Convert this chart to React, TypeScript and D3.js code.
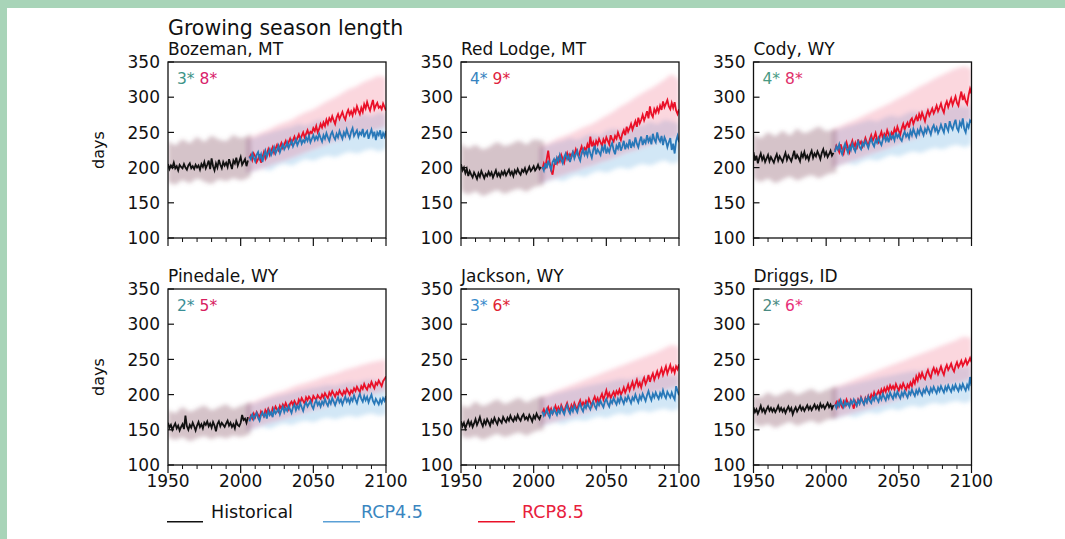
import React from "react";
import * as d3 from "d3";

// ---------- labels ----------
const chartTitle = "Growing season length";
const stations = ["Bozeman, MT", "Red Lodge, MT", "Cody, WY", "Pinedale, WY", "Jackson, WY", "Driggs, ID"];
const trend45 = ["3*", "4*", "4*", "2*", "3*", "2*"];
const trend85 = ["8*", "9*", "8*", "5*", "6*", "6*"];
const trend45Colors = ["#3d9488", "#3683c0", "#4a9a84", "#3a8e96", "#3a8ccc", "#4a8a82"];
const trend85Colors = ["#d8206a", "#e0223e", "#e0306a", "#d82060", "#e02232", "#e8307a"];
const xTicks = [1950, 2000, 2050, 2100];
const xMinorTicks = [1960, 1970, 1980, 1990, 2010, 2020, 2030, 2040, 2060, 2070, 2080, 2090];
const yTicks = [100, 150, 200, 250, 300, 350];
const legendLabels = ["Historical", "RCP4.5", "RCP8.5"];
const histStart = 1950;
const futStart = 2006;
const histBandYears = [1950, 1955, 1960, 1965, 1970, 1975, 1980, 1985, 1990, 1995, 2000, 2007];
const futBandYears = [2004, 2010, 2015, 2020, 2025, 2030, 2035, 2040, 2045, 2050, 2055, 2060, 2065, 2070, 2075, 2080, 2085, 2090, 2095, 2100];

// ---------- Bozeman ----------
const bozemanHist = [205,198,203,200,207,199,202,196,204,201, 199,205,200,197,203,206,199,202,198,204, 200,203,197,205,201,208,199,204,210,198, 213,202,196,206,200,211,204,199,208,203, 207,201,212,205,198,210,206,214,203,209, 215,204,208,212,202,210];
const bozemanRcp45 = [216,212,220,214,209,218,222,213,219,208, 217,224,215,221,226,218,223,229,220,225, 231,222,228,233,226,230,236,228,233,238, 230,235,240,232,237,242,234,239,236,243, 238,245,236,241,246,239,244,240,248,242, 237,246,241,249,243,238,247,251,244,240, 248,243,252,246,241,250,245,254,247,242, 251,256,245,249,253,244,250,247,255,243, 249,252,241,248,254,245,251,239,250,246, 253,241,249,244,252];
const bozemanRcp85 = [214,218,211,220,216,208,212,219,207,215, 222,213,219,226,218,224,229,221,227,232, 225,230,235,228,233,238,231,236,241,234, 239,244,237,242,247,240,245,250,243,248, 253,246,251,249,256,252,259,250,255,262, 257,264,259,268,262,270,266,273,267,262, 271,276,269,274,279,272,268,277,282,275, 280,274,283,278,287,281,276,285,279,290, 284,293,286,281,289,296,283,288,292,285, 287,283,291,286,281];
const bozemanHistLo = [180,176,182,178,184,180,177,183,181,185,182,188];
const bozemanHistHi = [238,232,240,235,243,237,245,240,238,246,242,248];
const bozemanRcp45Lo = [192,195,198,196,202,205,203,208,212,210,214,217,215,219,222,220,224,226,223,228];
const bozemanRcp45Hi = [240,243,247,250,253,256,258,262,260,265,268,266,270,272,269,274,276,273,278,275];
const bozemanRcp85Lo = [193,196,199,203,207,210,214,218,222,226,230,234,238,240,244,247,250,252,255,258];
const bozemanRcp85Hi = [242,246,251,255,260,264,268,274,279,283,289,295,300,306,312,316,322,326,330,328];

// ---------- Red Lodge ----------
const redLodgeHist = [205,196,200,192,198,188,195,190,186,193, 189,184,192,187,195,190,185,191,188,194, 189,193,186,191,196,188,192,187,194,190, 195,189,193,197,190,194,188,196,192,198, 193,190,197,194,199,192,196,201,195,198, 202,196,199,204,198,201];
const redLodgeRcp45 = [201,196,206,199,210,203,197,208,212,204, 214,209,218,211,206,215,220,212,217,208, 216,222,213,219,224,215,210,221,226,218, 223,217,228,220,214,225,231,219,226,222, 218,229,224,233,220,227,222,230,235,225, 219,231,227,236,224,230,238,226,233,229, 240,228,235,231,243,234,229,238,244,232, 239,235,246,237,242,233,248,240,236,250, 241,237,245,232,243,238,229,236,242,225, 234,220,238,245,236];
const redLodgeRcp85 = [198,206,201,212,224,208,196,190,203,210, 206,214,209,218,212,207,216,221,213,219, 215,222,218,226,220,216,224,230,222,228, 225,233,227,244,230,236,229,238,233,241, 236,231,240,235,243,238,233,246,240,237, 245,241,250,244,239,248,253,246,258,251, 256,262,254,260,266,258,271,263,268,275, 267,273,280,270,287,276,272,283,278,285, 279,288,282,294,286,291,296,287,283,292, 285,293,281,276,283];
const redLodgeHistLo = [168,162,166,160,164,168,163,167,170,166,172,175];
const redLodgeHistHi = [235,228,232,226,230,236,231,234,238,233,240,238];
const redLodgeRcp45Lo = [178,180,183,181,186,189,187,192,195,193,197,200,198,202,205,203,207,210,206,209];
const redLodgeRcp45Hi = [228,232,236,238,242,240,245,248,246,252,255,253,258,262,260,265,262,268,266,263];
const redLodgeRcp85Lo = [178,182,186,189,193,196,200,203,207,210,214,218,222,225,229,232,236,238,241,244];
const redLodgeRcp85Hi = [230,235,240,244,248,253,258,262,268,274,280,287,293,300,306,312,318,325,332,324];

// ---------- Cody ----------
const codyHist = [222,210,217,206,214,220,211,216,208,213, 218,209,215,211,207,214,219,210,216,212, 208,215,221,211,217,213,209,216,224,212, 218,214,209,220,215,222,213,217,211,219, 224,214,220,216,223,218,212,221,226,217, 222,215,219,224,217,221];
const codyRcp45 = [222,230,226,233,224,219,228,234,227,221, 230,225,234,228,223,232,237,229,226,235, 231,238,233,228,236,241,234,230,239,235, 242,236,232,240,245,238,243,236,247,241, 245,239,250,243,247,241,238,246,251,244, 248,242,252,246,255,249,244,253,248,257, 251,246,255,250,258,253,247,256,260,252, 257,249,254,261,255,250,263,257,252,266, 258,254,262,268,256,252,264,259,270,255, 250,262,257,267,264];
const codyRcp85 = [224,231,227,222,233,226,220,229,236,228, 222,232,238,229,235,226,240,233,237,230, 235,242,236,231,240,246,238,243,249,240, 236,245,251,242,248,244,253,247,242,250, 246,255,249,258,252,247,256,262,254,260, 264,257,267,270,262,268,273,266,276,270, 278,272,266,275,281,274,279,284,277,282, 288,280,285,291,283,278,289,294,286,292, 298,289,295,301,292,288,299,308,296,302, 294,290,303,312,305];
const codyHistLo = [185,180,184,178,183,187,182,186,189,185,190,193];
const codyHistHi = [248,242,250,245,252,246,255,249,253,258,252,256];
const codyRcp45Lo = [200,203,206,204,209,212,210,214,218,216,220,223,221,225,228,226,230,232,229,234];
const codyRcp45Hi = [252,256,259,262,265,268,266,271,274,272,277,280,278,282,285,283,287,289,286,290];
const codyRcp85Lo = [200,204,208,211,215,219,222,226,230,234,238,241,245,249,252,256,259,262,265,268];
const codyRcp85Hi = [254,259,264,268,273,278,283,288,293,299,304,310,316,321,327,332,337,341,344,340];

// ---------- Pinedale ----------
const pinedaleHist = [160,153,157,150,155,159,152,156,149,154, 158,151,170,155,150,157,153,160,155,149, 156,161,154,158,152,160,157,162,155,159, 153,161,156,148,158,162,155,160,157,154, 159,163,156,160,154,158,152,162,157,155, 160,171,164,166,160,168];
const pinedaleRcp45 = [162,168,172,165,170,174,167,163,171,175, 169,173,166,177,171,175,168,179,173,176, 180,172,178,183,175,181,177,184,179,174, 182,186,178,184,180,188,182,177,185,189, 183,187,191,184,180,188,192,185,189,183, 190,186,194,188,184,192,187,195,190,185, 191,196,189,193,186,192,197,190,194,188, 195,191,199,193,188,196,201,194,190,198, 192,197,189,195,200,191,187,194,190,186, 193,188,195,191,198];
const pinedaleRcp85 = [164,170,166,173,168,175,171,167,176,172, 169,178,174,180,175,172,181,177,183,179, 176,184,180,186,182,188,183,179,187,190, 185,191,187,184,193,189,195,191,187,196, 192,197,194,190,198,195,193,199,196,194, 200,196,202,198,195,203,199,205,201,197, 203,200,206,202,199,205,201,208,204,200, 206,203,209,205,211,207,204,212,208,215, 210,207,214,211,218,213,209,217,214,220, 216,212,219,222,226];
const pinedaleHistLo = [140,136,139,134,138,141,137,140,138,142,140,145];
const pinedaleHistHi = [178,174,182,176,180,184,178,182,186,180,184,190];
const pinedaleRcp45Lo = [148,151,154,152,156,159,157,161,163,161,165,167,165,168,170,168,171,173,170,172];
const pinedaleRcp45Hi = [185,188,192,195,198,200,203,206,208,210,212,214,213,216,218,217,220,221,219,222];
const pinedaleRcp85Lo = [150,153,157,160,163,166,169,172,175,178,181,184,187,190,192,195,198,200,203,206];
const pinedaleRcp85Hi = [187,191,195,199,203,206,210,214,217,220,224,227,230,234,237,240,243,246,248,250];

// ---------- Jackson ----------
const jacksonHist = [162,155,160,152,158,163,156,161,154,159, 165,157,162,168,160,155,163,158,165,161, 156,164,160,167,162,158,166,163,160,168, 164,161,167,163,170,165,162,168,164,171, 166,163,169,172,165,168,164,171,167,162, 170,166,173,168,165,171];
const jacksonRcp45 = [176,170,174,179,172,168,177,173,180,175, 171,178,174,182,176,172,180,185,177,173, 181,176,184,179,175,183,187,180,176,185, 181,188,183,179,186,190,184,180,189,185, 191,186,182,190,194,187,183,192,188,195, 190,186,194,189,197,192,187,195,191,198, 193,188,196,192,200,194,189,198,193,201, 196,191,199,205,197,192,201,196,203,198, 194,202,197,206,199,195,204,200,196,203, 197,193,212,205,199];
const jacksonRcp85 = [174,179,172,177,182,175,180,173,178,184, 177,182,176,185,180,175,183,188,181,177, 185,180,188,183,179,187,192,184,189,185, 191,186,194,189,184,192,197,190,195,188, 196,201,193,199,206,197,202,195,200,204, 198,205,201,207,200,204,210,203,208,214, 206,212,218,209,215,221,212,217,210,219, 224,215,220,228,218,225,230,221,227,233, 225,231,237,228,234,240,230,236,242,233, 238,231,240,236,243];
const jacksonHistLo = [142,138,141,136,140,144,140,143,146,142,147,150];
const jacksonHistHi = [186,182,190,184,188,193,187,191,195,189,194,198];
const jacksonRcp45Lo = [155,157,160,158,162,164,163,166,169,167,171,173,171,175,177,175,178,180,177,181];
const jacksonRcp45Hi = [195,198,202,204,207,209,212,214,216,218,220,222,221,224,226,225,228,229,227,230];
const jacksonRcp85Lo = [156,159,162,165,168,171,174,177,180,183,186,189,192,195,198,201,204,206,209,212];
const jacksonRcp85Hi = [197,201,205,209,213,217,221,225,229,233,237,241,245,249,253,257,261,266,270,268];

// ---------- Driggs ----------
const driggsHist = [182,175,179,173,178,184,176,180,174,179, 183,177,181,176,180,175,179,184,177,181, 176,180,174,179,183,177,181,172,178,182, 176,180,184,178,182,177,181,185,179,183, 178,182,186,180,184,179,187,182,185,180, 184,188,182,186,180,185];
const driggsRcp45 = [186,181,189,184,192,186,182,190,185,188, 183,191,187,193,188,184,192,187,195,190, 186,194,189,197,191,188,196,192,199,194, 190,198,193,201,196,192,200,195,203,198, 194,202,197,204,199,195,203,198,205,200, 196,204,200,207,202,198,206,201,208,203, 199,207,203,210,205,201,209,204,211,206, 202,210,205,212,207,203,211,206,213,208, 204,212,207,214,209,205,213,208,215,210, 206,214,209,225,212];
const driggsRcp85 = [184,189,183,191,186,182,190,185,193,188, 184,192,187,180,190,185,193,188,196,191, 187,195,190,198,193,200,195,203,197,201, 205,199,207,202,209,204,211,206,213,208, 212,207,215,210,206,213,209,216,211,207, 214,210,217,212,221,216,226,220,229,224, 231,225,222,230,235,228,224,233,238,231, 236,229,234,240,233,228,237,242,235,239, 244,237,233,241,246,239,243,248,241,245, 250,243,247,252,246];
const driggsHistLo = [160,155,158,153,157,161,156,160,163,159,164,166];
const driggsHistHi = [200,196,203,198,202,206,200,204,208,203,207,212];
const driggsRcp45Lo = [165,167,170,168,172,175,173,177,180,178,182,184,182,186,188,186,189,191,188,192];
const driggsRcp45Hi = [208,211,214,216,219,221,224,226,228,230,232,234,233,236,238,237,240,241,239,242];
const driggsRcp85Lo = [166,169,172,175,178,181,184,187,190,193,196,199,202,205,208,211,214,216,219,222];
const driggsRcp85Hi = [210,214,218,222,226,230,234,238,242,246,250,254,258,262,266,270,274,278,282,280];

const panels = [
  { hist: bozemanHist, r45: bozemanRcp45, r85: bozemanRcp85, hLo: bozemanHistLo, hHi: bozemanHistHi, l45: bozemanRcp45Lo, u45: bozemanRcp45Hi, l85: bozemanRcp85Lo, u85: bozemanRcp85Hi },
  { hist: redLodgeHist, r45: redLodgeRcp45, r85: redLodgeRcp85, hLo: redLodgeHistLo, hHi: redLodgeHistHi, l45: redLodgeRcp45Lo, u45: redLodgeRcp45Hi, l85: redLodgeRcp85Lo, u85: redLodgeRcp85Hi },
  { hist: codyHist, r45: codyRcp45, r85: codyRcp85, hLo: codyHistLo, hHi: codyHistHi, l45: codyRcp45Lo, u45: codyRcp45Hi, l85: codyRcp85Lo, u85: codyRcp85Hi },
  { hist: pinedaleHist, r45: pinedaleRcp45, r85: pinedaleRcp85, hLo: pinedaleHistLo, hHi: pinedaleHistHi, l45: pinedaleRcp45Lo, u45: pinedaleRcp45Hi, l85: pinedaleRcp85Lo, u85: pinedaleRcp85Hi },
  { hist: jacksonHist, r45: jacksonRcp45, r85: jacksonRcp85, hLo: jacksonHistLo, hHi: jacksonHistHi, l45: jacksonRcp45Lo, u45: jacksonRcp45Hi, l85: jacksonRcp85Lo, u85: jacksonRcp85Hi },
  { hist: driggsHist, r45: driggsRcp45, r85: driggsRcp85, hLo: driggsHistLo, hHi: driggsHistHi, l45: driggsRcp45Lo, u45: driggsRcp45Hi, l85: driggsRcp85Lo, u85: driggsRcp85Hi },
];

// ---------- layout ----------
const W = 1065, H = 539;
const colLefts = [168, 461, 753.5];
const rowTops = [62, 289];
const PW = 218, PH = 176;
const FONT = "DejaVu Sans, sans-serif";
const C_BLUE = "#2878b8";
const C_RED = "#ea1028";

const x = d3.scaleLinear().domain([1950, 2100]).range([0, PW]);
const y = d3.scaleLinear().domain([100, 350]).range([PH, 0]);

type Pt = [number, number];
const toPts = (vals: number[], start: number): Pt[] => vals.map((v, i) => [start + i, v]);
const lineGen = d3.line<Pt>().x(d => x(d[0])).y(d => y(d[1]));
const bandGen = d3.area<{ yr: number; lo: number; hi: number }>()
  .x(d => x(d.yr)).y0(d => y(d.lo)).y1(d => y(d.hi)).curve(d3.curveMonotoneX);
const band = (years: number[], lo: number[], hi: number[]) =>
  bandGen(years.map((yr, i) => ({ yr, lo: lo[i], hi: hi[i] }))) || "";

function Panel({ idx }: { idx: number }) {
  const p = panels[idx];
  const col = idx % 3, row = Math.floor(idx / 3);
  const left = colLefts[col], top = rowTops[row];
  const clipId = `clip${idx}`;
  return (
    <g transform={`translate(${left},${top})`}>
      <defs>
        <clipPath id={clipId}><rect x={0} y={0} width={PW} height={PH} /></clipPath>
      </defs>
      <g clipPath={`url(#${clipId})`}>
        <g filter="url(#soft)">
          <path d={band(futBandYears, p.l45, p.u45)} fill="#6aaee0" fillOpacity={0.3} />
          <path d={band(futBandYears, p.l85, p.u85)} fill="#f06a88" fillOpacity={0.28} />
          <path d={band(histBandYears, p.hLo, p.hHi)} fill="#8a5a6a" fillOpacity={0.36} />
        </g>
        <path d={lineGen(toPts(p.r85, futStart)) || ""} fill="none" stroke={C_RED} strokeWidth={1.8} />
        <path d={lineGen(toPts(p.r45, futStart)) || ""} fill="none" stroke={C_BLUE} strokeWidth={1.8} />
        <path d={lineGen(toPts(p.hist, histStart)) || ""} fill="none" stroke="#111" strokeWidth={1.8} />
      </g>
      <rect x={0} y={0} width={PW} height={PH} fill="none" stroke="#111" strokeWidth={1.3} />
      {yTicks.map(t => (
        <g key={t}>
          <line x1={0} x2={6} y1={y(t)} y2={y(t)} stroke="#111" strokeWidth={1.2} />
          <text x={-8} y={y(t)} dy="0.36em" textAnchor="end" fontSize={17} fontFamily={FONT} fill="#111">{t}</text>
        </g>
      ))}
      {xMinorTicks.map(t => (
        <line key={t} x1={x(t)} x2={x(t)} y1={PH} y2={PH + 4} stroke="#111" strokeWidth={1} />
      ))}
      {xTicks.map(t => (
        <line key={t} x1={x(t)} x2={x(t)} y1={PH} y2={PH + 8} stroke="#111" strokeWidth={1.2} />
      ))}
      {row === 1 && xTicks.map(t => (
        <text key={t} x={x(t)} y={PH + 22} textAnchor="middle" fontSize={17} fontFamily={FONT} fill="#111">{t}</text>
      ))}
      <text x={0} y={-7} fontSize={17} fontFamily={FONT} fill="#111">{stations[idx]}</text>
      <text x={9} y={21.5} fontSize={15.5} fontFamily={FONT}>
        <tspan fill={trend45Colors[idx]}>{trend45[idx]}</tspan>
        <tspan fill={trend85Colors[idx]}>{" " + trend85[idx]}</tspan>
      </text>
      {col === 0 && (
        <text transform={`translate(-64,${PH / 2}) rotate(-90)`} textAnchor="middle" fontSize={16} fontFamily={FONT} fill="#111">days</text>
      )}
    </g>
  );
}

export default function App() {
  const legendItems = [
    { label: legendLabels[0], color: "#111", textColor: "#111", x1: 167, x2: 203, tx: 211 },
    { label: legendLabels[1], color: "#5aa0d6", textColor: "#3a86c0", x1: 323, x2: 360, tx: 361 },
    { label: legendLabels[2], color: "#ea1028", textColor: "#e8203c", x1: 478, x2: 515, tx: 522 },
  ];
  return (
    <div style={{ position: "fixed", left: 0, top: 0, width: W, height: H }}>
      <svg width={W} height={H} style={{ display: "block" }}>
        <defs>
          <filter id="soft" x="-5%" y="-5%" width="110%" height="110%">
            <feGaussianBlur stdDeviation="2.2" />
          </filter>
        </defs>
        <rect x={0} y={0} width={W} height={H} fill="#a8d4b8" />
        <rect x={7} y={8} width={W - 7} height={H - 8} fill="#ffffff" />
        <text x={168} y={35} fontSize={20.5} fontFamily={FONT} fill="#111">{chartTitle}</text>
        {panels.map((_, i) => <Panel key={i} idx={i} />)}
        {legendItems.map(it => (
          <g key={it.label}>
            <line x1={it.x1} x2={it.x2} y1={521.7} y2={521.7} stroke={it.color} strokeWidth={1.5} />
            <text x={it.tx} y={518.3} fontSize={17.5} fontFamily={FONT} fill={it.textColor}>{it.label}</text>
          </g>
        ))}
      </svg>
    </div>
  );
}
